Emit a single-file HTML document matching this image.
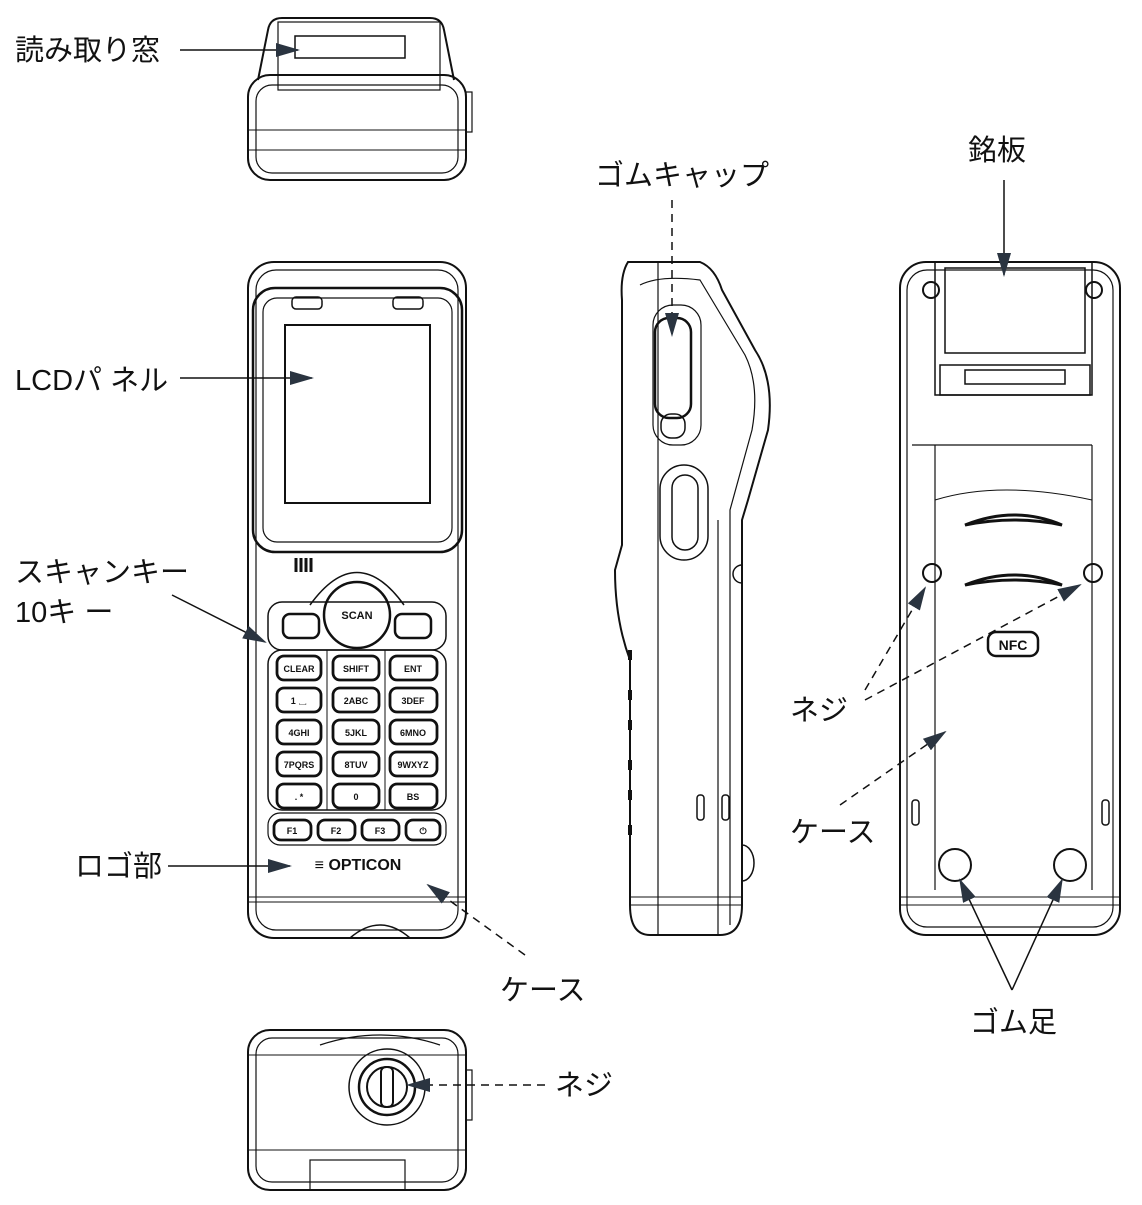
<!DOCTYPE html>
<html><head><meta charset="utf-8"><style>
html,body{margin:0;padding:0;background:#fff}
svg{display:block}
text{font-family:"Liberation Sans","Noto Sans CJK JP",sans-serif;fill:#111}
.l{font-size:29px}
</style></head><body>
<svg width="1142" height="1205" viewBox="0 0 1142 1205" xmlns="http://www.w3.org/2000/svg">
<defs><marker id="a" markerWidth="24" markerHeight="14" refX="22" refY="7" orient="auto" markerUnits="userSpaceOnUse"><path d="M0,0 L24,7 L0,14z" fill="#2a3440"/></marker></defs>
<g fill="none" stroke="#111" stroke-width="2">
<!-- top view -->
<rect x="248" y="75" width="218" height="105" rx="22"/>
<rect x="256" y="85" width="202" height="88" rx="16" stroke-width="1.2"/>
<path d="M258 80 L268 30 Q270 18 282 18 L430 18 Q442 18 444 30 L454 80"/>
<rect x="278" y="22" width="162" height="68" stroke-width="1.2"/>
<rect x="295" y="36" width="110" height="22" stroke-width="1.5"/>
<line x1="248" y1="130" x2="466" y2="130" stroke-width="1"/>
<line x1="248" y1="150" x2="466" y2="150" stroke-width="1"/>
<rect x="466" y="92" width="6" height="40" stroke-width="1.2"/>
<!-- front view -->
<rect x="248" y="262" width="218" height="676" rx="26"/>
<rect x="256" y="270" width="202" height="660" rx="20" stroke-width="1.2"/>
<rect x="253" y="288" width="209" height="264" rx="22" stroke-width="2.5"/>
<rect x="263" y="298" width="189" height="244" rx="14" stroke-width="1.2"/>
<rect x="285" y="325" width="145" height="178" stroke-width="2"/>
<rect x="292" y="297" width="30" height="12" rx="4" stroke-width="1.5"/>
<rect x="393" y="297" width="30" height="12" rx="4" stroke-width="1.5"/>
<path d="M296 558 v14 M301 558 v14 M306 558 v14 M311 558 v14" stroke-width="3"/>
<path d="M310 605 Q357 540 404 605" stroke-width="1.5"/>
<circle cx="357" cy="615" r="33" stroke-width="2.5"/>
<rect x="268" y="602" width="178" height="48" rx="14" stroke-width="1.5"/>
<rect x="283" y="614" width="36" height="24" rx="7" stroke-width="2.5"/>
<rect x="395" y="614" width="36" height="24" rx="7" stroke-width="2.5"/>
<rect x="268" y="650" width="178" height="160" rx="14" stroke-width="1.5"/>
<line x1="327" y1="650" x2="327" y2="810" stroke-width="1"/>
<line x1="385" y1="650" x2="385" y2="810" stroke-width="1"/>
<g stroke-width="2.8">
<rect x="277" y="656" width="44" height="24" rx="7"/><rect x="333" y="656" width="46" height="24" rx="7"/><rect x="390" y="656" width="47" height="24" rx="7"/>
<rect x="277" y="688" width="44" height="24" rx="7"/><rect x="333" y="688" width="46" height="24" rx="7"/><rect x="390" y="688" width="47" height="24" rx="7"/>
<rect x="277" y="720" width="44" height="24" rx="7"/><rect x="333" y="720" width="46" height="24" rx="7"/><rect x="390" y="720" width="47" height="24" rx="7"/>
<rect x="277" y="752" width="44" height="24" rx="7"/><rect x="333" y="752" width="46" height="24" rx="7"/><rect x="390" y="752" width="47" height="24" rx="7"/>
<rect x="277" y="784" width="44" height="24" rx="7"/><rect x="333" y="784" width="46" height="24" rx="7"/><rect x="390" y="784" width="47" height="24" rx="7"/>
<rect x="274" y="820" width="37" height="20" rx="7"/><rect x="318" y="820" width="37" height="20" rx="7"/><rect x="362" y="820" width="37" height="20" rx="7"/><rect x="406" y="820" width="34" height="20" rx="7"/>
</g>
<rect x="268" y="813" width="178" height="32" rx="12" stroke-width="1.2"/>
<line x1="248" y1="897" x2="466" y2="897" stroke-width="1"/>
<line x1="248" y1="902" x2="466" y2="902" stroke-width="1"/>
<path d="M350 938 Q380 912 410 938" stroke-width="1.5"/>
<!-- bottom view -->
<rect x="248" y="1030" width="218" height="160" rx="22"/>
<rect x="256" y="1038" width="202" height="144" rx="16" stroke-width="1.2"/>
<line x1="248" y1="1055" x2="466" y2="1055" stroke-width="1"/>
<line x1="248" y1="1150" x2="466" y2="1150" stroke-width="1"/>
<circle cx="387" cy="1087" r="38" stroke-width="1.5"/>
<circle cx="387" cy="1087" r="28" stroke-width="2.5"/>
<circle cx="387" cy="1087" r="20" stroke-width="2"/>
<rect x="381" y="1067" width="12" height="40" rx="5" stroke-width="2"/>
<path d="M320 1045 Q380 1025 440 1045" stroke-width="1.2"/>
<rect x="466" y="1070" width="6" height="50" stroke-width="1.2"/>
<rect x="310" y="1160" width="95" height="30" stroke-width="1.2"/>
<!-- side view -->
<path d="M628 262 L700 262 Q715 268 722 290 L755 350 Q775 380 768 430 L748 500 L742 520 L742 905 Q742 935 720 935 L650 935 Q630 935 630 905 L630 660 Q615 620 615 570 L622 545 L622 300 Q620 275 628 262z"/>
<path d="M640 285 Q660 275 700 280 L745 355 Q760 385 752 430 L730 510 L730 925" stroke-width="1.2"/>
<line x1="658" y1="262" x2="658" y2="935" stroke-width="1.2"/>
<line x1="718" y1="520" x2="718" y2="935" stroke-width="1.2"/>
<rect x="653" y="305" width="48" height="140" rx="20" stroke-width="1.2"/>
<rect x="655" y="318" width="36" height="100" rx="14" stroke-width="2.5"/>
<rect x="661" y="414" width="24" height="24" rx="10" stroke-width="1.5"/>
<rect x="660" y="465" width="48" height="95" rx="24" stroke-width="1.5"/>
<rect x="672" y="475" width="26" height="75" rx="13" stroke-width="1.5"/>
<line x1="630" y1="897" x2="742" y2="897" stroke-width="1"/>
<line x1="630" y1="905" x2="742" y2="905" stroke-width="1"/>
<rect x="697" y="795" width="7" height="25" rx="3" stroke-width="1.5"/>
<rect x="722" y="795" width="7" height="25" rx="3" stroke-width="1.5"/>
<path d="M742 565 a9 9 0 0 0 0 18" stroke-width="1.5"/>
<path d="M742 845 a12 18 0 0 1 0 36" stroke-width="1.5"/>
<path d="M630 650 v10 M630 690 v10 M630 720 v10 M630 760 v10 M630 790 v10 M630 825 v10" stroke-width="4"/>
<!-- back view -->
<rect x="900" y="262" width="220" height="673" rx="26"/>
<rect x="907" y="270" width="206" height="657" rx="20" stroke-width="1.2"/>
<path d="M935 262 L935 395 L1092 395 L1092 262" stroke-width="1.5"/>
<rect x="945" y="268" width="140" height="85" stroke-width="1.5"/>
<rect x="940" y="365" width="150" height="30" stroke-width="1.5"/>
<rect x="965" y="370" width="100" height="14" stroke-width="1.5"/>
<path d="M912 445 L935 445 L935 890 M1092 445 L1092 890 M935 445 L1092 445" stroke-width="1.2"/>
<path d="M935 500 Q1000 480 1092 500" stroke-width="1"/>
<circle cx="931" cy="290" r="8"/><circle cx="1094" cy="290" r="8"/>
<circle cx="932" cy="573" r="9"/><circle cx="1093" cy="573" r="9"/>
<path d="M965 525 Q1015 505 1062 525 Q1015 515 965 525z M965 585 Q1015 565 1062 585 Q1015 575 965 585z" stroke-width="3"/>
<rect x="988" y="632" width="50" height="24" rx="8" stroke-width="2.5"/>
<circle cx="955" cy="865" r="16" stroke-width="2"/><circle cx="1070" cy="865" r="16" stroke-width="2"/>
<line x1="900" y1="897" x2="1120" y2="897" stroke-width="1"/>
<line x1="900" y1="905" x2="1120" y2="905" stroke-width="1"/>
<rect x="912" y="800" width="7" height="25" rx="3" stroke-width="1.5"/>
<rect x="1102" y="800" width="7" height="25" rx="3" stroke-width="1.5"/>
</g>
<g font-family="Liberation Sans" font-weight="bold" font-size="9" text-anchor="middle">
<text x="357" y="619" font-size="11">SCAN</text>
<text x="299" y="672">CLEAR</text><text x="356" y="672">SHIFT</text><text x="413" y="672">ENT</text>
<text x="299" y="704">1 ␣</text><text x="356" y="704">2ABC</text><text x="413" y="704">3DEF</text>
<text x="299" y="736">4GHI</text><text x="356" y="736">5JKL</text><text x="413" y="736">6MNO</text>
<text x="299" y="768">7PQRS</text><text x="356" y="768">8TUV</text><text x="413" y="768">9WXYZ</text>
<text x="299" y="800">. *</text><text x="356" y="800">0</text><text x="413" y="800">BS</text>
<text x="292" y="834">F1</text><text x="336" y="834">F2</text><text x="380" y="834">F3</text><text x="423" y="834">⏻</text>
<text x="358" y="870" font-size="16">≡ OPTICON</text>
<text x="1013" y="650" font-size="14">NFC</text>
</g>
<!-- connectors -->
<g stroke="#111" stroke-width="1.5" fill="none">
<line x1="180" y1="50" x2="298" y2="50" marker-end="url(#a)"/>
<line x1="180" y1="378" x2="312" y2="378" marker-end="url(#a)"/>
<line x1="172" y1="595" x2="265" y2="642" marker-end="url(#a)"/>
<line x1="168" y1="866" x2="290" y2="866" marker-end="url(#a)"/>
<line x1="525" y1="955" x2="428" y2="885" stroke-dasharray="8,6" marker-end="url(#a)"/>
<line x1="545" y1="1085" x2="408" y2="1085" stroke-dasharray="8,6" marker-end="url(#a)"/>
<line x1="672" y1="200" x2="672" y2="335" stroke-dasharray="8,6" marker-end="url(#a)"/>
<line x1="1004" y1="180" x2="1004" y2="275" marker-end="url(#a)"/>
<line x1="865" y1="690" x2="925" y2="588" stroke-dasharray="8,6" marker-end="url(#a)"/>
<line x1="865" y1="700" x2="1080" y2="585" stroke-dasharray="8,6" marker-end="url(#a)"/>
<line x1="840" y1="805" x2="945" y2="732" stroke-dasharray="8,6" marker-end="url(#a)"/>
<line x1="1012" y1="990" x2="960" y2="880" marker-end="url(#a)"/>
<line x1="1012" y1="990" x2="1062" y2="880" marker-end="url(#a)"/>
</g>
<text class="l" x="15" y="60">読み取り窓</text>
<text class="l" x="595" y="185">ゴムキャップ</text>
<text class="l" x="968" y="160">銘板</text>
<text class="l" x="15" y="390">LCDパ ネル</text>
<text class="l" x="15" y="582">スキャンキー</text>
<text class="l" x="15" y="622">10キ ー</text>
<text class="l" x="75" y="876">ロゴ部</text>
<text class="l" x="500" y="1000">ケース</text>
<text class="l" x="555" y="1095">ネジ</text>
<text class="l" x="790" y="720">ネジ</text>
<text class="l" x="790" y="842">ケース</text>
<text class="l" x="970" y="1032">ゴム足</text>
</svg>
</body></html>
